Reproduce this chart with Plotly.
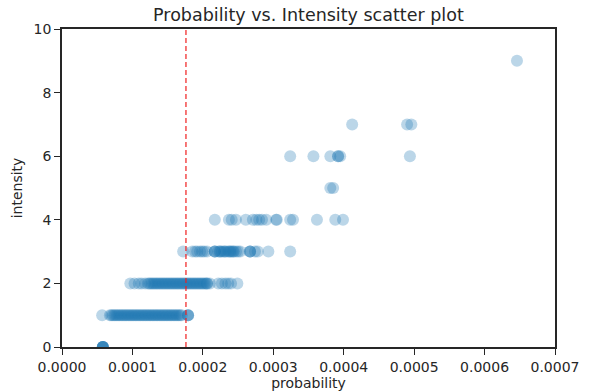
import plotly.graph_objects as go

# probabilities in units of 1e-5, grouped by intensity
SCALE = 1e-5
prob_i0 = [5.8, 5.8, 5.8, 5.8, 5.8, 5.8]
prob_i1 = [5.7, 6.8, 7.0, 7.2, 7.4, 7.6, 7.8, 8.0, 8.2, 8.4, 8.6, 8.8, 9.0, 9.2,
           9.4, 9.6, 9.8, 10.0, 10.2, 10.4, 10.6, 10.8, 11.0, 11.2, 11.4, 11.6,
           11.8, 12.0, 12.2, 12.4, 12.6, 12.8, 13.0, 13.2, 13.4, 13.6, 13.8, 14.0,
           14.2, 14.4, 14.6, 14.8, 15.0, 15.2, 15.4, 15.6, 15.8, 16.0, 16.2, 16.4,
           16.6, 16.8, 17.0, 17.9, 17.9, 17.9]
prob_i2 = [9.7, 10.3, 10.9, 11.3, 11.8, 12.2, 12.4, 12.6, 12.8, 13.0, 13.2, 13.4,
           13.6, 13.8, 14.0, 14.2, 14.4, 14.6, 14.8, 15.0, 15.2, 15.4, 15.6, 15.8,
           16.0, 16.2, 16.4, 16.6, 16.8, 17.0, 17.2, 17.4, 17.6, 17.8, 18.0, 18.2,
           18.4, 18.6, 18.8, 19.0, 19.2, 19.4, 19.6, 19.8, 20.0, 20.2, 20.4, 20.6,
           20.6, 21.0, 22.2, 22.7, 23.2, 23.6, 24.0, 24.9]
prob_i3 = [17.2, 18.5, 18.9, 19.2, 19.6, 19.9, 20.2, 20.6, 21.7, 21.7, 21.7, 22.2,
           22.4, 22.7, 23.0, 23.3, 23.6, 23.9, 24.1, 24.4, 24.7, 25.0, 25.3, 22.5,
           23.1, 23.8, 24.3, 26.7, 26.7, 26.7, 27.4, 27.8, 29.3, 32.4]
prob_i4 = [21.7, 23.7, 24.1, 24.7, 26.1, 27.1, 27.6, 28.0, 28.4, 29.0, 30.4, 30.5,
           32.4, 32.8, 36.2, 38.8, 39.9]
prob_i5 = [38.1, 38.5]
prob_i6 = [32.4, 35.7, 38.1, 39.2, 39.2, 39.5, 49.4]
prob_i7 = [41.2, 49.0, 49.6]
prob_i9 = [64.6]

groups = {0: prob_i0, 1: prob_i1, 2: prob_i2, 3: prob_i3, 4: prob_i4,
          5: prob_i5, 6: prob_i6, 7: prob_i7, 9: prob_i9}

threshold = 17.6 * SCALE
x_ticks = [0.0, 0.0001, 0.0002, 0.0003, 0.0004, 0.0005, 0.0006, 0.0007]
y_ticks = [0, 2, 4, 6, 8, 10]

xs, ys = [], []
for inten, probs in groups.items():
    for p in probs:
        xs.append(p * SCALE)
        ys.append(inten)

TXT = "#262626"
FONT = "DejaVu Sans"

fig = go.Figure()
fig.add_trace(go.Scatter(
    x=xs, y=ys, mode="markers",
    marker=dict(size=12, color="#1f77b4", opacity=0.3,
                line=dict(width=0)),
    showlegend=False,
))

fig.add_shape(type="line", xref="x", yref="paper", x0=threshold, x1=threshold,
              y0=0, y1=1, line=dict(color="rgba(240,30,30,0.8)", width=1.5,
                                    dash="5px,3px"))

axis_common = dict(showgrid=False, zeroline=False, showline=True, linecolor=TXT,
                   linewidth=1.6, mirror=True, ticks="outside", ticklen=6,
                   tickwidth=1.3, tickcolor=TXT, automargin=False,
                   tickfont=dict(family=FONT, size=14, color=TXT))

fig.update_layout(
    width=592, height=391,
    margin=dict(l=62, r=37, t=29, b=44),
    paper_bgcolor="white", plot_bgcolor="white",
    title=dict(text="Probability vs. Intensity scatter plot", x=0.521, xanchor="center",
               y=0.962, yanchor="middle", automargin=False,
               font=dict(family=FONT, size=17.5, color=TXT)),
    xaxis=dict(range=[0, 0.0007], tickvals=x_ticks, tickformat=".4f",
               title=dict(text="probability", standoff=2,
                          font=dict(family=FONT, size=14, color=TXT)),
               **axis_common),
    yaxis=dict(range=[0, 10], tickvals=y_ticks,
               title=dict(text="intensity", standoff=8,
                          font=dict(family=FONT, size=14, color=TXT)),
               **axis_common),
)

fig.write_html("out.html", config={"displayModeBar": False},
               post_script="document.body.style.margin='0';")
